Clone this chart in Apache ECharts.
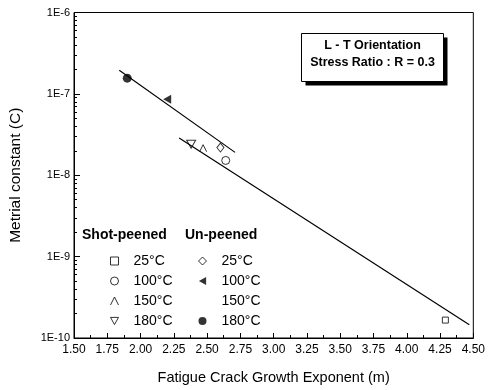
<!DOCTYPE html>
<html>
<head>
<meta charset="utf-8">
<script src="https://cdn.jsdelivr.net/npm/echarts@6/dist/echarts.min.js"></script>
<style>
  html, body { margin: 0; padding: 0; background: #fff; }
  #chart { width: 488px; height: 390px; }
</style>
</head>
<body>
<div id="chart"></div>
<script>
// points: [m, C]
const shot25 = [[4.29, 1.66e-10]];
const shot100 = [[2.64, 1.52e-8]];
const shot150 = [[2.47, 2.15e-8]];
const shot180 = [[2.38, 2.4e-8]];
const un25 = [[2.60, 2.19e-8]];
const un100 = [[2.20, 8.6e-8]];
const un150 = [];
const un180 = [[1.90, 1.56e-7]];

// fitted lines (end points)
const fitUnpeened = [[1.84, 1.95e-7], [2.71, 1.91e-8]];
const fitShotPeened = [[2.29, 2.87e-8], [4.47, 1.45e-10]];

// axis ticks
const yDecades = [-10, -9, -8, -7];
const yMinorSteps = [2, 3, 4, 5, 6, 7, 8, 9];
const yMinorTicks = [];
yDecades.forEach(d => yMinorSteps.forEach(k => yMinorTicks.push(k * Math.pow(10, d))));

const FONT = 'Arial, "Liberation Sans", sans-serif';
const chart = echarts.init(document.getElementById('chart'));

const openStyle = { color: 'rgba(0,0,0,0)', borderColor: '#000', borderWidth: 1 };
const fillStyle = { color: '#000' };

// symbols
const caret = 'path://M0,10L5,0L10,10';
const triDown = 'path://M0,0L10,0L5,9Z';
const triLeft = 'path://M9,0L9,10L0,5Z';

const scatter = (name, data, symbol, size, style) => ({
  name, type: 'scatter', data, symbol, symbolSize: size,
  itemStyle: style, z: 3, silent: true
});

const fitLine = (name, data) => ({
  name, type: 'line', data, symbol: 'none', silent: true,
  lineStyle: { color: '#000', width: 1.2 }
});

const legendBase = {
  orient: 'vertical',
  selectedMode: false,
  itemWidth: 8,
  itemHeight: 8,
  itemGap: 6,
  top: 249,
  textStyle: {
    fontFamily: FONT, fontSize: 14, color: '#000', lineHeight: 14,
    rich: { s: { width: 10 } }
  },
  itemStyle: { borderWidth: 1 },
  // spacer pushes the text away from the symbol as in the figure
  formatter: name => '{s|}' + name.replace(/^(Shot|Un) /, '')
};

chart.setOption({
  animation: false,
  backgroundColor: '#fff',
  grid: {
    left: 69, right: 13, top: 12.5, bottom: 46,
    show: true, borderColor: '#000', borderWidth: 1
  },
  xAxis: {
    type: 'value',
    min: 1.5, max: 4.5, interval: 0.25,
    name: 'Fatigue Crack Growth Exponent (m)',
    nameLocation: 'middle', nameGap: 32,
    nameTextStyle: { fontFamily: FONT, fontSize: 14.5, color: '#000' },
    axisLine: { lineStyle: { color: '#000', width: 1 } },
    axisTick: { inside: true, length: 5, lineStyle: { color: '#000' } },
    minorTick: { show: true, splitNumber: 2, length: 3, lineStyle: { color: '#000' } },
    axisLabel: {
      fontFamily: FONT, fontSize: 12, color: '#000', margin: 6,
      formatter: v => v.toFixed(2)
    },
    splitLine: { show: false }
  },
  yAxis: [{
    type: 'log', logBase: 10,
    min: 1e-10, max: 1e-6,
    name: 'Metrial constant (C)',
    nameLocation: 'middle', nameGap: 50,
    nameTextStyle: { fontFamily: FONT, fontSize: 15.5, color: '#000' },
    axisLine: { lineStyle: { color: '#000', width: 1 } },
    axisTick: { inside: true, length: 6, lineStyle: { color: '#000' } },
    axisLabel: {
      fontFamily: FONT, fontSize: 11, color: '#000', margin: 4,
      formatter: v => '1E' + Math.round(Math.log10(v))
    },
    splitLine: { show: false }
  }, {
    type: 'log', logBase: 10,
    min: 1e-10, max: 1e-6,
    position: 'left',
    axisLine: { show: false },
    axisLabel: { show: false },
    axisTick: {
      show: true, inside: true, length: 3, customValues: yMinorTicks,
      lineStyle: { color: '#000' }
    },
    splitLine: { show: false }
  }],
  legend: [
    Object.assign({}, legendBase, {
      left: 105,
      data: ['Shot 25°C', 'Shot 100°C', 'Shot 150°C', 'Shot 180°C']
    }),
    Object.assign({}, legendBase, {
      left: 193,
      data: ['Un 25°C', 'Un 100°C', { name: 'Un 150°C', icon: 'none' }, 'Un 180°C']
    })
  ],
  graphic: [
    { type: 'text', left: 82, top: 228,
      style: { text: 'Shot-peened', font: 'bold 14px ' + FONT, fill: '#000' } },
    { type: 'text', left: 185, top: 228,
      style: { text: 'Un-peened', font: 'bold 14px ' + FONT, fill: '#000' } },
    { type: 'rect', shape: { x: 305.5, y: 37.5, width: 142, height: 48 },
      style: { fill: '#000' } },
    { type: 'rect', shape: { x: 301.5, y: 33.5, width: 142, height: 48 },
      style: { fill: '#fff', stroke: '#000', lineWidth: 1 } },
    { type: 'text', x: 372.5, y: 46,
      style: { text: 'L - T Orientation', font: 'bold 12.5px ' + FONT, fill: '#000',
               align: 'center', verticalAlign: 'middle' } },
    { type: 'text', x: 372.5, y: 63,
      style: { text: 'Stress Ratio : R = 0.3', font: 'bold 12.5px ' + FONT, fill: '#000',
               align: 'center', verticalAlign: 'middle' } }
  ],
  series: [
    fitLine('fit un-peened', fitUnpeened),
    fitLine('fit shot-peened', fitShotPeened),
    scatter('Shot 25°C', shot25, 'rect', 6, openStyle),
    scatter('Shot 100°C', shot100, 'circle', 8, openStyle),
    scatter('Shot 150°C', shot150, caret, [7, 7], openStyle),
    scatter('Shot 180°C', shot180, triDown, [9, 8], openStyle),
    scatter('Un 25°C', un25, 'diamond', [7, 9], openStyle),
    scatter('Un 100°C', un100, triLeft, [8, 9], fillStyle),
    scatter('Un 150°C', un150, 'none', 8, fillStyle),
    scatter('Un 180°C', un180, 'circle', 9, fillStyle)
  ]
});
</script>
</body>
</html>
